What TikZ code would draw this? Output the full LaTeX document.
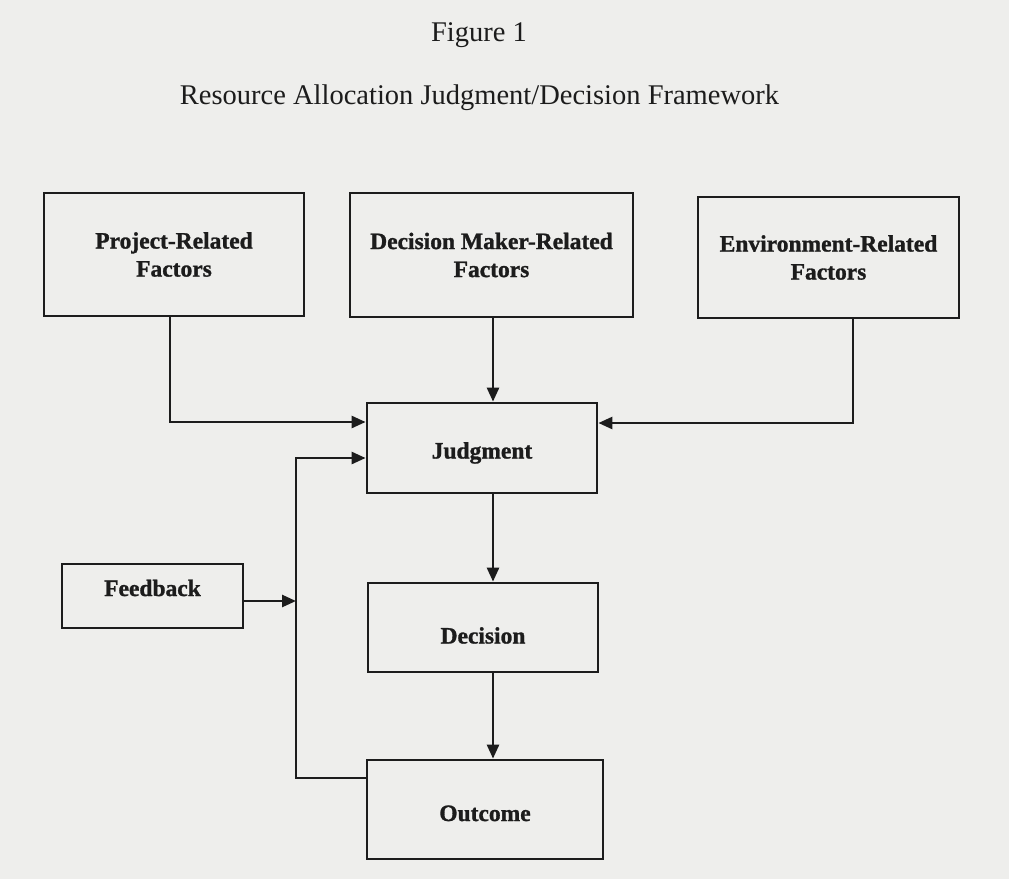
\documentclass[tikz,border=0pt]{standalone}
\usepackage{fontspec}
\setmainfont{Liberation Serif}[BoldFeatures={FakeBold=1.2}]
\usetikzlibrary{arrows.meta}
\definecolor{paper}{RGB}{238,238,236}
\definecolor{ink}{RGB}{28,28,28}
\tikzset{
  box/.style={draw=ink, line width=2.8pt, inner sep=0pt, text=ink,
    font=\bfseries\fontsize{23.5}{28}\selectfont},
  conn/.style={draw=ink, line width=2.6pt, -{Triangle[length=14pt,width=12pt]}},
  ttl/.style={text=ink, font=\fontsize{28.5}{32}\selectfont, inner sep=0pt}
}
\begin{document}
\begin{tikzpicture}[x=1pt,y=-1pt]
\fill[paper] (0,0) rectangle (1009,879);
\useasboundingbox (0,0) rectangle (1009,879);

\node[ttl] (fig) at (479,35) {Figure 1};
\node[ttl] (title) at (479.5,98) {Resource Allocation Judgment/Decision Framework};

\node[box, align=center, minimum width=260pt, minimum height=123pt] (proj) at (174,254.5) {Project-Related\\Factors};
\node[box, align=center, minimum width=283pt, minimum height=124pt] (dm) at (491.5,255) {Decision Maker-Related\\Factors};
\node[box, align=center, minimum width=261pt, minimum height=121pt] (env) at (828.5,257.5) {Environment-Related\\Factors};
\node[box, minimum width=230pt, minimum height=90pt, text height=26pt, text depth=5pt] (judg) at (482,448) {Judgment};
\node[box, minimum width=181pt, minimum height=64pt, text height=16pt, text depth=16pt] (fb) at (152.5,596) {Feedback};
\node[box, minimum width=230pt, minimum height=89pt, text height=32pt, text depth=0pt] (dec) at (483,627.5) {Decision};
\node[box, minimum width=236pt, minimum height=99pt, text height=23pt, text depth=0pt] (out) at (485,809.5) {Outcome};

\coordinate (colx) at (493,0);
\coordinate (lc) at (296,458);
\coordinate (fbarr) at (296,601);

\draw[conn] ([xshift=-4pt]proj.south) |- ([yshift=26pt]judg.west);
\draw[conn] (dm.south -| colx) -- (judg.north -| colx);
\draw[conn] ([xshift=24.5pt]env.south) |- ([yshift=25pt]judg.east);
\draw[conn] (judg.south -| colx) -- (dec.north -| colx);
\draw[conn] (dec.south -| colx) -- (out.north -| colx);
\draw[conn] ([yshift=31.5pt]out.west) -| (lc) -- ([yshift=-10pt]judg.west);
\draw[conn] (fb.east |- fbarr) -- (fbarr);
\end{tikzpicture}
\end{document}
